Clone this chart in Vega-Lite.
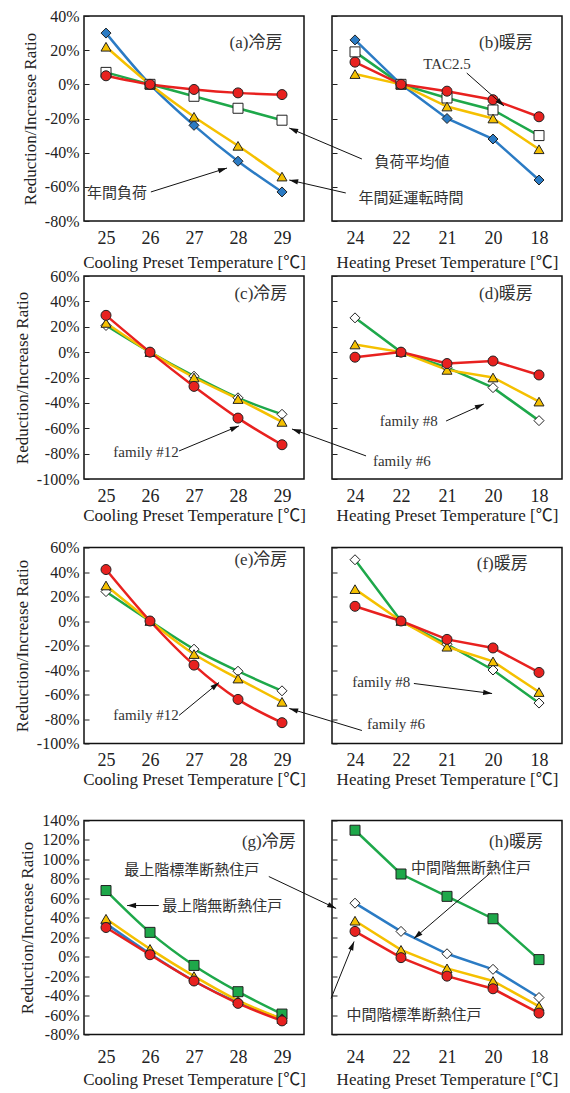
{
"$schema": "https://vega.github.io/schema/vega-lite/v6.json",
"background": "white",
"padding": {"left": 12, "top": 7, "right": 0, "bottom": 0},
"config": {
  "font": "'Liberation Serif', 'Times New Roman', 'DejaVu Serif', serif",
  "view": {"stroke": "#111", "strokeWidth": 1.5},
  "axis": {"domain": false, "grid": false, "labelFont": "'Liberation Serif', 'Times New Roman', serif", "labelColor": "#222", "titleFont": "'Liberation Serif', 'Times New Roman', 'Noto Sans CJK JP', serif", "titleColor": "#222", "titleFontWeight": "normal", "tickColor": "#222"},
  "axisX": {"ticks": false, "labelFontSize": 18, "labelPadding": 8, "titleFontSize": 17, "titlePadding": 7},
  "axisY": {"ticks": true, "tickSize": -5, "labelFontSize": 16, "labelPadding": 10, "titleFontSize": 17, "titlePadding": 5}
},
"datasets": {
  "pts": [
    {"p":"a","s":"gSw","i":0,"v":7},{"p":"a","s":"gSw","i":1,"v":0},{"p":"a","s":"gSw","i":2,"v":-7},{"p":"a","s":"gSw","i":3,"v":-14},{"p":"a","s":"gSw","i":4,"v":-21},
    {"p":"a","s":"bD","i":0,"v":30},{"p":"a","s":"bD","i":1,"v":0},{"p":"a","s":"bD","i":2,"v":-24},{"p":"a","s":"bD","i":3,"v":-45},{"p":"a","s":"bD","i":4,"v":-63},
    {"p":"a","s":"yT","i":0,"v":22},{"p":"a","s":"yT","i":1,"v":0},{"p":"a","s":"yT","i":2,"v":-19},{"p":"a","s":"yT","i":3,"v":-36},{"p":"a","s":"yT","i":4,"v":-54},
    {"p":"a","s":"rC","i":0,"v":5},{"p":"a","s":"rC","i":1,"v":0},{"p":"a","s":"rC","i":2,"v":-3},{"p":"a","s":"rC","i":3,"v":-5},{"p":"a","s":"rC","i":4,"v":-6},
    {"p":"b","s":"gSw","i":0,"v":19},{"p":"b","s":"gSw","i":1,"v":0},{"p":"b","s":"gSw","i":2,"v":-8},{"p":"b","s":"gSw","i":3,"v":-15},{"p":"b","s":"gSw","i":4,"v":-30},
    {"p":"b","s":"bD","i":0,"v":26},{"p":"b","s":"bD","i":1,"v":0},{"p":"b","s":"bD","i":2,"v":-20},{"p":"b","s":"bD","i":3,"v":-32},{"p":"b","s":"bD","i":4,"v":-56},
    {"p":"b","s":"yT","i":0,"v":6},{"p":"b","s":"yT","i":1,"v":0},{"p":"b","s":"yT","i":2,"v":-13},{"p":"b","s":"yT","i":3,"v":-20},{"p":"b","s":"yT","i":4,"v":-38},
    {"p":"b","s":"rC","i":0,"v":13},{"p":"b","s":"rC","i":1,"v":0},{"p":"b","s":"rC","i":2,"v":-4},{"p":"b","s":"rC","i":3,"v":-9},{"p":"b","s":"rC","i":4,"v":-19},
    {"p":"c","s":"gDw","i":0,"v":21},{"p":"c","s":"gDw","i":1,"v":0},{"p":"c","s":"gDw","i":2,"v":-19},{"p":"c","s":"gDw","i":3,"v":-36},{"p":"c","s":"gDw","i":4,"v":-49},
    {"p":"c","s":"yT","i":0,"v":23},{"p":"c","s":"yT","i":1,"v":0},{"p":"c","s":"yT","i":2,"v":-20},{"p":"c","s":"yT","i":3,"v":-37},{"p":"c","s":"yT","i":4,"v":-55},
    {"p":"c","s":"rC","i":0,"v":29},{"p":"c","s":"rC","i":1,"v":0},{"p":"c","s":"rC","i":2,"v":-27},{"p":"c","s":"rC","i":3,"v":-52},{"p":"c","s":"rC","i":4,"v":-73},
    {"p":"d","s":"gDw","i":0,"v":27},{"p":"d","s":"gDw","i":1,"v":0},{"p":"d","s":"gDw","i":2,"v":-12},{"p":"d","s":"gDw","i":3,"v":-28},{"p":"d","s":"gDw","i":4,"v":-54},
    {"p":"d","s":"yT","i":0,"v":6},{"p":"d","s":"yT","i":1,"v":0},{"p":"d","s":"yT","i":2,"v":-14},{"p":"d","s":"yT","i":3,"v":-20},{"p":"d","s":"yT","i":4,"v":-39},
    {"p":"d","s":"rC","i":0,"v":-4},{"p":"d","s":"rC","i":1,"v":0},{"p":"d","s":"rC","i":2,"v":-9},{"p":"d","s":"rC","i":3,"v":-7},{"p":"d","s":"rC","i":4,"v":-18},
    {"p":"e","s":"gDw","i":0,"v":24},{"p":"e","s":"gDw","i":1,"v":0},{"p":"e","s":"gDw","i":2,"v":-23},{"p":"e","s":"gDw","i":3,"v":-41},{"p":"e","s":"gDw","i":4,"v":-57},
    {"p":"e","s":"yT","i":0,"v":29},{"p":"e","s":"yT","i":1,"v":0},{"p":"e","s":"yT","i":2,"v":-27},{"p":"e","s":"yT","i":3,"v":-47},{"p":"e","s":"yT","i":4,"v":-66},
    {"p":"e","s":"rC","i":0,"v":42},{"p":"e","s":"rC","i":1,"v":0},{"p":"e","s":"rC","i":2,"v":-36},{"p":"e","s":"rC","i":3,"v":-64},{"p":"e","s":"rC","i":4,"v":-83},
    {"p":"f","s":"gDw","i":0,"v":50},{"p":"f","s":"gDw","i":1,"v":0},{"p":"f","s":"gDw","i":2,"v":-19},{"p":"f","s":"gDw","i":3,"v":-40},{"p":"f","s":"gDw","i":4,"v":-67},
    {"p":"f","s":"yT","i":0,"v":26},{"p":"f","s":"yT","i":1,"v":0},{"p":"f","s":"yT","i":2,"v":-21},{"p":"f","s":"yT","i":3,"v":-33},{"p":"f","s":"yT","i":4,"v":-58},
    {"p":"f","s":"rC","i":0,"v":12},{"p":"f","s":"rC","i":1,"v":0},{"p":"f","s":"rC","i":2,"v":-15},{"p":"f","s":"rC","i":3,"v":-22},{"p":"f","s":"rC","i":4,"v":-42},
    {"p":"g","s":"gS","i":0,"v":68},{"p":"g","s":"gS","i":1,"v":25},{"p":"g","s":"gS","i":2,"v":-9},{"p":"g","s":"gS","i":3,"v":-36},{"p":"g","s":"gS","i":4,"v":-59},
    {"p":"g","s":"bD","i":0,"v":34},{"p":"g","s":"bD","i":1,"v":3},{"p":"g","s":"bD","i":2,"v":-25},{"p":"g","s":"bD","i":3,"v":-47},{"p":"g","s":"bD","i":4,"v":-64},
    {"p":"g","s":"yT","i":0,"v":39},{"p":"g","s":"yT","i":1,"v":8},{"p":"g","s":"yT","i":2,"v":-20},{"p":"g","s":"yT","i":3,"v":-45},{"p":"g","s":"yT","i":4,"v":-64},
    {"p":"g","s":"rC","i":0,"v":30},{"p":"g","s":"rC","i":1,"v":2},{"p":"g","s":"rC","i":2,"v":-25},{"p":"g","s":"rC","i":3,"v":-48},{"p":"g","s":"rC","i":4,"v":-66},
    {"p":"h","s":"gS","i":0,"v":130},{"p":"h","s":"gS","i":1,"v":85},{"p":"h","s":"gS","i":2,"v":62},{"p":"h","s":"gS","i":3,"v":39},{"p":"h","s":"gS","i":4,"v":-3},
    {"p":"h","s":"bDw","i":0,"v":55},{"p":"h","s":"bDw","i":1,"v":26},{"p":"h","s":"bDw","i":2,"v":3},{"p":"h","s":"bDw","i":3,"v":-13},{"p":"h","s":"bDw","i":4,"v":-42},
    {"p":"h","s":"yT","i":0,"v":37},{"p":"h","s":"yT","i":1,"v":7},{"p":"h","s":"yT","i":2,"v":-12},{"p":"h","s":"yT","i":3,"v":-25},{"p":"h","s":"yT","i":4,"v":-51},
    {"p":"h","s":"rC","i":0,"v":26},{"p":"h","s":"rC","i":1,"v":-1},{"p":"h","s":"rC","i":2,"v":-20},{"p":"h","s":"rC","i":3,"v":-33},{"p":"h","s":"rC","i":4,"v":-58}
  ],
  "txt": [
    {"p":"a","k":"lab","i":3.41,"v":24.2,"t":"(a)冷房"},
    {"p":"a","k":"ann","i":0.25,"v":-63.6,"t":"年間負荷"},
    {"p":"b","k":"lab","i":3.28,"v":24.2,"t":"(b)暖房"},
    {"p":"b","k":"ann","i":2.0,"v":11.9,"t":"TAC2.5"},
    {"p":"b","k":"ann","i":1.24,"v":-45.5,"t":"負荷平均値"},
    {"p":"b","k":"ann","i":1.22,"v":-66.6,"t":"年間延運転時間"},
    {"p":"c","k":"lab","i":3.52,"v":45.8,"t":"(c)冷房"},
    {"p":"c","k":"ann","i":0.91,"v":-78.7,"t":"family #12"},
    {"p":"d","k":"lab","i":3.28,"v":45.8,"t":"(d)暖房"},
    {"p":"d","k":"ann","i":1.17,"v":-54.3,"t":"family #8"},
    {"p":"d","k":"ann","i":1.02,"v":-85.8,"t":"family #6"},
    {"p":"e","k":"lab","i":3.52,"v":50,"t":"(e)冷房"},
    {"p":"e","k":"ann","i":0.91,"v":-77.1,"t":"family #12"},
    {"p":"f","k":"lab","i":3.2,"v":46.9,"t":"(f)暖房"},
    {"p":"f","k":"ann","i":0.57,"v":-50.2,"t":"family #8"},
    {"p":"f","k":"ann","i":0.89,"v":-83.7,"t":"family #6"},
    {"p":"g","k":"lab","i":3.7,"v":118.4,"t":"(g)冷房"},
    {"p":"g","k":"ann","i":1.95,"v":88.6,"t":"最上階標準断熱住戸"},
    {"p":"g","k":"ann","i":2.64,"v":52.6,"t":"最上階無断熱住戸"},
    {"p":"h","k":"lab","i":3.5,"v":118.4,"t":"(h)暖房"},
    {"p":"h","k":"ann","i":2.52,"v":90.7,"t":"中間階無断熱住戸"},
    {"p":"h","k":"ann","i":1.28,"v":-60.4,"t":"中間階標準断熱住戸"}
  ],
  "arr": [
    {"p":"a","i":2.75,"v":-49.0,"i2":1.02,"v2":-63.0,"a":72.5},
    {"p":"b","i":3.24,"v":-12.7,"i2":2.43,"v2":6.6,"a":131.7},
    {"p":"b","i":-1.43,"v":-25.6,"i2":0.15,"v2":-43.7,"a":-67},
    {"p":"b","i":-1.43,"v":-56.0,"i2":-0.2,"v2":-63.6,"a":-77.2},
    {"p":"c","i":3.02,"v":-58.2,"i2":1.66,"v2":-77.9,"a":67.4},
    {"p":"d","i":2.8,"v":-40.9,"i2":1.98,"v2":-54.3,"a":65.9},
    {"p":"d","i":-1.37,"v":-60.6,"i2":0.24,"v2":-81.8,"a":-69.9},
    {"p":"e","i":2.57,"v":-50.2,"i2":1.66,"v2":-77.1,"a":50.5},
    {"p":"f","i":2.98,"v":-59.2,"i2":1.28,"v2":-51.0,"a":97.3},
    {"p":"f","i":-1.43,"v":-71.4,"i2":0.15,"v2":-89.4,"a":-73.2},
    {"p":"g","i":5.23,"v":49.6,"i2":3.7,"v2":82.4,"a":115.5},
    {"p":"g","i":0.48,"v":52.6,"i2":1.2,"v2":52.6,"a":-90},
    {"p":"h","i":1.28,"v":18.7,"i2":2.98,"v2":87.6,"a":-130.7},
    {"p":"h","i":-0.02,"v":15.6,"i2":-0.52,"v2":-42.9,"a":22}
  ]
},
"spacing": 22.5,
"resolve": {"scale": {"x": "independent", "y": "independent"}},
"vconcat": [
 {"spacing": 14.5, "resolve": {"scale": {"x": "independent", "y": "independent"}}, "vconcat": [
  {"spacing": -4, "resolve": {"scale": {"x": "independent", "y": "independent"}}, "vconcat": [
   {"hconcat": [
    {"width": 220, "height": 205,
     "encoding": {
      "x": {"field": "i", "type": "quantitative", "scale": {"domain": [-0.5, 4.5], "nice": false, "zero": false}, "axis": {"values": [0,1,2,3,4], "labelExpr": "'' + (25 + datum.value)", "title": "Cooling Preset Temperature [℃]"}},
      "y": {"field": "v", "type": "quantitative", "scale": {"domain": [-80, 40], "nice": false, "zero": false}, "axis": {"values": [-80,-60,-40,-20,0,20,40], "labelExpr": "datum.value + '%'", "title": "Reduction/Increase Ratio"}}
     },
     "layer": [
      {"data": {"values": [{}]}, "mark": {"type": "rule", "color": "#222", "strokeWidth": 1}, "encoding": {"x": {"datum": -0.5}, "x2": {"datum": 4.5}, "y": {"datum": 0}}},
      {"data": {"name": "pts"}, "transform": [{"filter": "datum.p == 'a'"}], "mark": {"type": "line", "strokeWidth": 2.5, "interpolate": "monotone"}, "encoding": {"color": {"field": "s", "type": "nominal", "scale": {"domain": ["gSw","gS","gDw","bD","bDw","yT","rC"], "range": ["#1ea84a","#1ea84a","#1ea84a","#2b7bc4","#2b7bc4","#f5c000","#e8211f"]}, "legend": null}}},
      {"data": {"name": "pts"}, "transform": [{"filter": "datum.p == 'a'"}], "mark": {"type": "point", "filled": true, "size": 100, "stroke": "#222", "strokeWidth": 1, "opacity": 1}, "encoding": {"fill": {"field": "s", "type": "nominal", "scale": {"domain": ["gSw","gS","gDw","bD","bDw","yT","rC"], "range": ["white","#1ea84a","white","#2b7bc4","white","#f5c000","#e8211f"]}, "legend": null}, "shape": {"field": "s", "type": "nominal", "scale": {"domain": ["gSw","gS","gDw","bD","bDw","yT","rC"], "range": ["square","square","diamond","diamond","diamond","triangle-up","circle"]}, "legend": null}}},
      {"data": {"name": "arr"}, "transform": [{"filter": "datum.p == 'a'"}], "mark": {"type": "rule", "color": "#111", "strokeWidth": 1}, "encoding": {"x2": {"field": "i2"}, "y2": {"field": "v2"}}},
      {"data": {"name": "arr"}, "transform": [{"filter": "datum.p == 'a'"}], "mark": {"type": "point", "shape": "M0,0L0.6,2L-0.6,2Z", "filled": true, "color": "#111", "size": 80, "opacity": 1}, "encoding": {"angle": {"field": "a", "type": "quantitative", "scale": null}}},
      {"data": {"name": "txt"}, "transform": [{"filter": "datum.p == 'a' && datum.k == 'lab'"}], "mark": {"type": "text", "font": "'Liberation Serif', 'Noto Sans CJK JP', serif", "fontSize": 17, "color": "#333"}, "encoding": {"text": {"field": "t"}}},
      {"data": {"name": "txt"}, "transform": [{"filter": "datum.p == 'a' && datum.k == 'ann'"}], "mark": {"type": "text", "font": "'Liberation Serif', 'Noto Sans CJK JP', serif", "fontSize": 15, "color": "#333"}, "encoding": {"text": {"field": "t"}}}
     ]},
    {"width": 230, "height": 205,
     "encoding": {
      "x": {"field": "i", "type": "quantitative", "scale": {"domain": [-0.5, 4.5], "nice": false, "zero": false}, "axis": {"values": [0,1,2,3,4], "labelExpr": "['24','22','21','20','18'][datum.value]", "title": "Heating Preset Temperature [℃]"}},
      "y": {"field": "v", "type": "quantitative", "scale": {"domain": [-80, 40], "nice": false, "zero": false}, "axis": {"values": [-80,-60,-40,-20,0,20,40], "labels": false, "title": null}}
     },
     "layer": [
      {"data": {"values": [{}]}, "mark": {"type": "rule", "color": "#222", "strokeWidth": 1}, "encoding": {"x": {"datum": -0.5}, "x2": {"datum": 4.5}, "y": {"datum": 0}}},
      {"data": {"name": "pts"}, "transform": [{"filter": "datum.p == 'b'"}], "mark": {"type": "line", "strokeWidth": 2.5}, "encoding": {"color": {"field": "s", "type": "nominal", "scale": {"domain": ["gSw","gS","gDw","bD","bDw","yT","rC"], "range": ["#1ea84a","#1ea84a","#1ea84a","#2b7bc4","#2b7bc4","#f5c000","#e8211f"]}, "legend": null}}},
      {"data": {"name": "pts"}, "transform": [{"filter": "datum.p == 'b'"}], "mark": {"type": "point", "filled": true, "size": 100, "stroke": "#222", "strokeWidth": 1, "opacity": 1}, "encoding": {"fill": {"field": "s", "type": "nominal", "scale": {"domain": ["gSw","gS","gDw","bD","bDw","yT","rC"], "range": ["white","#1ea84a","white","#2b7bc4","white","#f5c000","#e8211f"]}, "legend": null}, "shape": {"field": "s", "type": "nominal", "scale": {"domain": ["gSw","gS","gDw","bD","bDw","yT","rC"], "range": ["square","square","diamond","diamond","diamond","triangle-up","circle"]}, "legend": null}}},
      {"data": {"name": "arr"}, "transform": [{"filter": "datum.p == 'b'"}], "mark": {"type": "rule", "color": "#111", "strokeWidth": 1}, "encoding": {"x2": {"field": "i2"}, "y2": {"field": "v2"}}},
      {"data": {"name": "arr"}, "transform": [{"filter": "datum.p == 'b'"}], "mark": {"type": "point", "shape": "M0,0L0.6,2L-0.6,2Z", "filled": true, "color": "#111", "size": 80, "opacity": 1}, "encoding": {"angle": {"field": "a", "type": "quantitative", "scale": null}}},
      {"data": {"name": "txt"}, "transform": [{"filter": "datum.p == 'b' && datum.k == 'lab'"}], "mark": {"type": "text", "font": "'Liberation Serif', 'Noto Sans CJK JP', serif", "fontSize": 17, "color": "#333"}, "encoding": {"text": {"field": "t"}}},
      {"data": {"name": "txt"}, "transform": [{"filter": "datum.p == 'b' && datum.k == 'ann'"}], "mark": {"type": "text", "font": "'Liberation Serif', 'Noto Sans CJK JP', serif", "fontSize": 15, "color": "#333"}, "encoding": {"text": {"field": "t"}}}
     ]}
   ], "spacing": 28, "bounds": "flush", "resolve": {"scale": {"x": "independent", "y": "independent"}}},
   {"hconcat": [
    {"width": 220, "height": 203,
     "encoding": {
      "x": {"field": "i", "type": "quantitative", "scale": {"domain": [-0.5, 4.5], "nice": false, "zero": false}, "axis": {"values": [0,1,2,3,4], "labelExpr": "'' + (25 + datum.value)", "title": "Cooling Preset Temperature [℃]", "titlePadding": 2}},
      "y": {"field": "v", "type": "quantitative", "scale": {"domain": [-100, 60], "nice": false, "zero": false}, "axis": {"values": [-100,-80,-60,-40,-20,0,20,40,60], "labelExpr": "datum.value + '%'", "title": "Reduction/Increase Ratio"}}
     },
     "layer": [
      {"data": {"values": [{}]}, "mark": {"type": "rule", "color": "#222", "strokeWidth": 1}, "encoding": {"x": {"datum": -0.5}, "x2": {"datum": 4.5}, "y": {"datum": 0}}},
      {"data": {"name": "pts"}, "transform": [{"filter": "datum.p == 'c'"}], "mark": {"type": "line", "strokeWidth": 2.5, "interpolate": "monotone"}, "encoding": {"color": {"field": "s", "type": "nominal", "scale": {"domain": ["gSw","gS","gDw","bD","bDw","yT","rC"], "range": ["#1ea84a","#1ea84a","#1ea84a","#2b7bc4","#2b7bc4","#f5c000","#e8211f"]}, "legend": null}}},
      {"data": {"name": "pts"}, "transform": [{"filter": "datum.p == 'c'"}], "mark": {"type": "point", "filled": true, "size": 100, "stroke": "#222", "strokeWidth": 1, "opacity": 1}, "encoding": {"fill": {"field": "s", "type": "nominal", "scale": {"domain": ["gSw","gS","gDw","bD","bDw","yT","rC"], "range": ["white","#1ea84a","white","#2b7bc4","white","#f5c000","#e8211f"]}, "legend": null}, "shape": {"field": "s", "type": "nominal", "scale": {"domain": ["gSw","gS","gDw","bD","bDw","yT","rC"], "range": ["square","square","diamond","diamond","diamond","triangle-up","circle"]}, "legend": null}}},
      {"data": {"name": "arr"}, "transform": [{"filter": "datum.p == 'c'"}], "mark": {"type": "rule", "color": "#111", "strokeWidth": 1}, "encoding": {"x2": {"field": "i2"}, "y2": {"field": "v2"}}},
      {"data": {"name": "arr"}, "transform": [{"filter": "datum.p == 'c'"}], "mark": {"type": "point", "shape": "M0,0L0.6,2L-0.6,2Z", "filled": true, "color": "#111", "size": 80, "opacity": 1}, "encoding": {"angle": {"field": "a", "type": "quantitative", "scale": null}}},
      {"data": {"name": "txt"}, "transform": [{"filter": "datum.p == 'c' && datum.k == 'lab'"}], "mark": {"type": "text", "font": "'Liberation Serif', 'Noto Sans CJK JP', serif", "fontSize": 17, "color": "#333"}, "encoding": {"text": {"field": "t"}}},
      {"data": {"name": "txt"}, "transform": [{"filter": "datum.p == 'c' && datum.k == 'ann'"}], "mark": {"type": "text", "font": "'Liberation Serif', 'Noto Sans CJK JP', serif", "fontSize": 15, "color": "#333"}, "encoding": {"text": {"field": "t"}}}
     ]},
    {"width": 230, "height": 203,
     "encoding": {
      "x": {"field": "i", "type": "quantitative", "scale": {"domain": [-0.5, 4.5], "nice": false, "zero": false}, "axis": {"values": [0,1,2,3,4], "labelExpr": "['24','22','21','20','18'][datum.value]", "title": "Heating Preset Temperature [℃]", "titlePadding": 2}},
      "y": {"field": "v", "type": "quantitative", "scale": {"domain": [-100, 60], "nice": false, "zero": false}, "axis": {"values": [-100,-80,-60,-40,-20,0,20,40,60], "labels": false, "title": null}}
     },
     "layer": [
      {"data": {"values": [{}]}, "mark": {"type": "rule", "color": "#222", "strokeWidth": 1}, "encoding": {"x": {"datum": -0.5}, "x2": {"datum": 4.5}, "y": {"datum": 0}}},
      {"data": {"name": "pts"}, "transform": [{"filter": "datum.p == 'd'"}], "mark": {"type": "line", "strokeWidth": 2.5}, "encoding": {"color": {"field": "s", "type": "nominal", "scale": {"domain": ["gSw","gS","gDw","bD","bDw","yT","rC"], "range": ["#1ea84a","#1ea84a","#1ea84a","#2b7bc4","#2b7bc4","#f5c000","#e8211f"]}, "legend": null}}},
      {"data": {"name": "pts"}, "transform": [{"filter": "datum.p == 'd'"}], "mark": {"type": "point", "filled": true, "size": 100, "stroke": "#222", "strokeWidth": 1, "opacity": 1}, "encoding": {"fill": {"field": "s", "type": "nominal", "scale": {"domain": ["gSw","gS","gDw","bD","bDw","yT","rC"], "range": ["white","#1ea84a","white","#2b7bc4","white","#f5c000","#e8211f"]}, "legend": null}, "shape": {"field": "s", "type": "nominal", "scale": {"domain": ["gSw","gS","gDw","bD","bDw","yT","rC"], "range": ["square","square","diamond","diamond","diamond","triangle-up","circle"]}, "legend": null}}},
      {"data": {"name": "arr"}, "transform": [{"filter": "datum.p == 'd'"}], "mark": {"type": "rule", "color": "#111", "strokeWidth": 1}, "encoding": {"x2": {"field": "i2"}, "y2": {"field": "v2"}}},
      {"data": {"name": "arr"}, "transform": [{"filter": "datum.p == 'd'"}], "mark": {"type": "point", "shape": "M0,0L0.6,2L-0.6,2Z", "filled": true, "color": "#111", "size": 80, "opacity": 1}, "encoding": {"angle": {"field": "a", "type": "quantitative", "scale": null}}},
      {"data": {"name": "txt"}, "transform": [{"filter": "datum.p == 'd' && datum.k == 'lab'"}], "mark": {"type": "text", "font": "'Liberation Serif', 'Noto Sans CJK JP', serif", "fontSize": 17, "color": "#333"}, "encoding": {"text": {"field": "t"}}},
      {"data": {"name": "txt"}, "transform": [{"filter": "datum.p == 'd' && datum.k == 'ann'"}], "mark": {"type": "text", "font": "'Liberation Serif', 'Noto Sans CJK JP', serif", "fontSize": 15, "color": "#333"}, "encoding": {"text": {"field": "t"}}}
     ]}
   ], "spacing": 28, "bounds": "flush", "resolve": {"scale": {"x": "independent", "y": "independent"}}}
  ]},
  {"hconcat": [
    {"width": 220, "height": 196,
     "encoding": {
      "x": {"field": "i", "type": "quantitative", "scale": {"domain": [-0.5, 4.5], "nice": false, "zero": false}, "axis": {"values": [0,1,2,3,4], "labelExpr": "'' + (25 + datum.value)", "title": "Cooling Preset Temperature [℃]", "titlePadding": 2}},
      "y": {"field": "v", "type": "quantitative", "scale": {"domain": [-100, 60], "nice": false, "zero": false}, "axis": {"values": [-100,-80,-60,-40,-20,0,20,40,60], "labelExpr": "datum.value + '%'", "title": "Reduction/Increase Ratio"}}
     },
     "layer": [
      {"data": {"values": [{}]}, "mark": {"type": "rule", "color": "#222", "strokeWidth": 1}, "encoding": {"x": {"datum": -0.5}, "x2": {"datum": 4.5}, "y": {"datum": 0}}},
      {"data": {"name": "pts"}, "transform": [{"filter": "datum.p == 'e'"}], "mark": {"type": "line", "strokeWidth": 2.5, "interpolate": "monotone"}, "encoding": {"color": {"field": "s", "type": "nominal", "scale": {"domain": ["gSw","gS","gDw","bD","bDw","yT","rC"], "range": ["#1ea84a","#1ea84a","#1ea84a","#2b7bc4","#2b7bc4","#f5c000","#e8211f"]}, "legend": null}}},
      {"data": {"name": "pts"}, "transform": [{"filter": "datum.p == 'e'"}], "mark": {"type": "point", "filled": true, "size": 100, "stroke": "#222", "strokeWidth": 1, "opacity": 1}, "encoding": {"fill": {"field": "s", "type": "nominal", "scale": {"domain": ["gSw","gS","gDw","bD","bDw","yT","rC"], "range": ["white","#1ea84a","white","#2b7bc4","white","#f5c000","#e8211f"]}, "legend": null}, "shape": {"field": "s", "type": "nominal", "scale": {"domain": ["gSw","gS","gDw","bD","bDw","yT","rC"], "range": ["square","square","diamond","diamond","diamond","triangle-up","circle"]}, "legend": null}}},
      {"data": {"name": "arr"}, "transform": [{"filter": "datum.p == 'e'"}], "mark": {"type": "rule", "color": "#111", "strokeWidth": 1}, "encoding": {"x2": {"field": "i2"}, "y2": {"field": "v2"}}},
      {"data": {"name": "arr"}, "transform": [{"filter": "datum.p == 'e'"}], "mark": {"type": "point", "shape": "M0,0L0.6,2L-0.6,2Z", "filled": true, "color": "#111", "size": 80, "opacity": 1}, "encoding": {"angle": {"field": "a", "type": "quantitative", "scale": null}}},
      {"data": {"name": "txt"}, "transform": [{"filter": "datum.p == 'e' && datum.k == 'lab'"}], "mark": {"type": "text", "font": "'Liberation Serif', 'Noto Sans CJK JP', serif", "fontSize": 17, "color": "#333"}, "encoding": {"text": {"field": "t"}}},
      {"data": {"name": "txt"}, "transform": [{"filter": "datum.p == 'e' && datum.k == 'ann'"}], "mark": {"type": "text", "font": "'Liberation Serif', 'Noto Sans CJK JP', serif", "fontSize": 15, "color": "#333"}, "encoding": {"text": {"field": "t"}}}
     ]},
    {"width": 230, "height": 196,
     "encoding": {
      "x": {"field": "i", "type": "quantitative", "scale": {"domain": [-0.5, 4.5], "nice": false, "zero": false}, "axis": {"values": [0,1,2,3,4], "labelExpr": "['24','22','21','20','18'][datum.value]", "title": "Heating Preset Temperature [℃]", "titlePadding": 2}},
      "y": {"field": "v", "type": "quantitative", "scale": {"domain": [-100, 60], "nice": false, "zero": false}, "axis": {"values": [-100,-80,-60,-40,-20,0,20,40,60], "labels": false, "title": null}}
     },
     "layer": [
      {"data": {"values": [{}]}, "mark": {"type": "rule", "color": "#222", "strokeWidth": 1}, "encoding": {"x": {"datum": -0.5}, "x2": {"datum": 4.5}, "y": {"datum": 0}}},
      {"data": {"name": "pts"}, "transform": [{"filter": "datum.p == 'f'"}], "mark": {"type": "line", "strokeWidth": 2.5}, "encoding": {"color": {"field": "s", "type": "nominal", "scale": {"domain": ["gSw","gS","gDw","bD","bDw","yT","rC"], "range": ["#1ea84a","#1ea84a","#1ea84a","#2b7bc4","#2b7bc4","#f5c000","#e8211f"]}, "legend": null}}},
      {"data": {"name": "pts"}, "transform": [{"filter": "datum.p == 'f'"}], "mark": {"type": "point", "filled": true, "size": 100, "stroke": "#222", "strokeWidth": 1, "opacity": 1}, "encoding": {"fill": {"field": "s", "type": "nominal", "scale": {"domain": ["gSw","gS","gDw","bD","bDw","yT","rC"], "range": ["white","#1ea84a","white","#2b7bc4","white","#f5c000","#e8211f"]}, "legend": null}, "shape": {"field": "s", "type": "nominal", "scale": {"domain": ["gSw","gS","gDw","bD","bDw","yT","rC"], "range": ["square","square","diamond","diamond","diamond","triangle-up","circle"]}, "legend": null}}},
      {"data": {"name": "arr"}, "transform": [{"filter": "datum.p == 'f'"}], "mark": {"type": "rule", "color": "#111", "strokeWidth": 1}, "encoding": {"x2": {"field": "i2"}, "y2": {"field": "v2"}}},
      {"data": {"name": "arr"}, "transform": [{"filter": "datum.p == 'f'"}], "mark": {"type": "point", "shape": "M0,0L0.6,2L-0.6,2Z", "filled": true, "color": "#111", "size": 80, "opacity": 1}, "encoding": {"angle": {"field": "a", "type": "quantitative", "scale": null}}},
      {"data": {"name": "txt"}, "transform": [{"filter": "datum.p == 'f' && datum.k == 'lab'"}], "mark": {"type": "text", "font": "'Liberation Serif', 'Noto Sans CJK JP', serif", "fontSize": 17, "color": "#333"}, "encoding": {"text": {"field": "t"}}},
      {"data": {"name": "txt"}, "transform": [{"filter": "datum.p == 'f' && datum.k == 'ann'"}], "mark": {"type": "text", "font": "'Liberation Serif', 'Noto Sans CJK JP', serif", "fontSize": 15, "color": "#333"}, "encoding": {"text": {"field": "t"}}}
     ]}
  ], "spacing": 28, "bounds": "flush", "resolve": {"scale": {"x": "independent", "y": "independent"}}}
 ]},
 {"hconcat": [
    {"width": 220, "height": 214,
     "encoding": {
      "x": {"field": "i", "type": "quantitative", "scale": {"domain": [-0.5, 4.5], "nice": false, "zero": false}, "axis": {"values": [0,1,2,3,4], "labelExpr": "'' + (25 + datum.value)", "title": "Cooling Preset Temperature [℃]", "labelPadding": 14, "titlePadding": 5}},
      "y": {"field": "v", "type": "quantitative", "scale": {"domain": [-80, 140], "nice": false, "zero": false}, "axis": {"values": [-80,-60,-40,-20,0,20,40,60,80,100,120,140], "labelExpr": "datum.value + '%'", "title": "Reduction/Increase Ratio"}}
     },
     "layer": [
      {"data": {"values": [{}]}, "mark": {"type": "rule", "color": "#222", "strokeWidth": 1}, "encoding": {"x": {"datum": -0.5}, "x2": {"datum": 4.5}, "y": {"datum": 0}}},
      {"data": {"name": "pts"}, "transform": [{"filter": "datum.p == 'g'"}], "mark": {"type": "line", "strokeWidth": 2.5, "interpolate": "monotone"}, "encoding": {"color": {"field": "s", "type": "nominal", "scale": {"domain": ["gSw","gS","gDw","bD","bDw","yT","rC"], "range": ["#1ea84a","#1ea84a","#1ea84a","#2b7bc4","#2b7bc4","#f5c000","#e8211f"]}, "legend": null}}},
      {"data": {"name": "pts"}, "transform": [{"filter": "datum.p == 'g'"}], "mark": {"type": "point", "filled": true, "size": 100, "stroke": "#222", "strokeWidth": 1, "opacity": 1}, "encoding": {"fill": {"field": "s", "type": "nominal", "scale": {"domain": ["gSw","gS","gDw","bD","bDw","yT","rC"], "range": ["white","#1ea84a","white","#2b7bc4","white","#f5c000","#e8211f"]}, "legend": null}, "shape": {"field": "s", "type": "nominal", "scale": {"domain": ["gSw","gS","gDw","bD","bDw","yT","rC"], "range": ["square","square","diamond","diamond","diamond","triangle-up","circle"]}, "legend": null}}},
      {"data": {"name": "arr"}, "transform": [{"filter": "datum.p == 'g'"}], "mark": {"type": "rule", "color": "#111", "strokeWidth": 1}, "encoding": {"x2": {"field": "i2"}, "y2": {"field": "v2"}}},
      {"data": {"name": "arr"}, "transform": [{"filter": "datum.p == 'g'"}], "mark": {"type": "point", "shape": "M0,0L0.6,2L-0.6,2Z", "filled": true, "color": "#111", "size": 80, "opacity": 1}, "encoding": {"angle": {"field": "a", "type": "quantitative", "scale": null}}},
      {"data": {"name": "txt"}, "transform": [{"filter": "datum.p == 'g' && datum.k == 'lab'"}], "mark": {"type": "text", "font": "'Liberation Serif', 'Noto Sans CJK JP', serif", "fontSize": 17, "color": "#333"}, "encoding": {"text": {"field": "t"}}},
      {"data": {"name": "txt"}, "transform": [{"filter": "datum.p == 'g' && datum.k == 'ann'"}], "mark": {"type": "text", "font": "'Liberation Serif', 'Noto Sans CJK JP', serif", "fontSize": 15, "color": "#333"}, "encoding": {"text": {"field": "t"}}}
     ]},
    {"width": 230, "height": 214,
     "encoding": {
      "x": {"field": "i", "type": "quantitative", "scale": {"domain": [-0.5, 4.5], "nice": false, "zero": false}, "axis": {"values": [0,1,2,3,4], "labelExpr": "['24','22','21','20','18'][datum.value]", "title": "Heating Preset Temperature [℃]", "labelPadding": 14, "titlePadding": 5}},
      "y": {"field": "v", "type": "quantitative", "scale": {"domain": [-80, 140], "nice": false, "zero": false}, "axis": {"values": [-80,-60,-40,-20,0,20,40,60,80,100,120,140], "labels": false, "title": null}}
     },
     "layer": [
      {"data": {"values": [{}]}, "mark": {"type": "rule", "color": "#222", "strokeWidth": 1}, "encoding": {"x": {"datum": -0.5}, "x2": {"datum": 4.5}, "y": {"datum": 0}}},
      {"data": {"name": "pts"}, "transform": [{"filter": "datum.p == 'h'"}], "mark": {"type": "line", "strokeWidth": 2.5}, "encoding": {"color": {"field": "s", "type": "nominal", "scale": {"domain": ["gSw","gS","gDw","bD","bDw","yT","rC"], "range": ["#1ea84a","#1ea84a","#1ea84a","#2b7bc4","#2b7bc4","#f5c000","#e8211f"]}, "legend": null}}},
      {"data": {"name": "pts"}, "transform": [{"filter": "datum.p == 'h'"}], "mark": {"type": "point", "filled": true, "size": 100, "stroke": "#222", "strokeWidth": 1, "opacity": 1}, "encoding": {"fill": {"field": "s", "type": "nominal", "scale": {"domain": ["gSw","gS","gDw","bD","bDw","yT","rC"], "range": ["white","#1ea84a","white","#2b7bc4","white","#f5c000","#e8211f"]}, "legend": null}, "shape": {"field": "s", "type": "nominal", "scale": {"domain": ["gSw","gS","gDw","bD","bDw","yT","rC"], "range": ["square","square","diamond","diamond","diamond","triangle-up","circle"]}, "legend": null}}},
      {"data": {"name": "arr"}, "transform": [{"filter": "datum.p == 'h'"}], "mark": {"type": "rule", "color": "#111", "strokeWidth": 1}, "encoding": {"x2": {"field": "i2"}, "y2": {"field": "v2"}}},
      {"data": {"name": "arr"}, "transform": [{"filter": "datum.p == 'h'"}], "mark": {"type": "point", "shape": "M0,0L0.6,2L-0.6,2Z", "filled": true, "color": "#111", "size": 80, "opacity": 1}, "encoding": {"angle": {"field": "a", "type": "quantitative", "scale": null}}},
      {"data": {"name": "txt"}, "transform": [{"filter": "datum.p == 'h' && datum.k == 'lab'"}], "mark": {"type": "text", "font": "'Liberation Serif', 'Noto Sans CJK JP', serif", "fontSize": 17, "color": "#333"}, "encoding": {"text": {"field": "t"}}},
      {"data": {"name": "txt"}, "transform": [{"filter": "datum.p == 'h' && datum.k == 'ann'"}], "mark": {"type": "text", "font": "'Liberation Serif', 'Noto Sans CJK JP', serif", "fontSize": 15, "color": "#333"}, "encoding": {"text": {"field": "t"}}}
     ]}
 ], "spacing": 28, "bounds": "flush", "resolve": {"scale": {"x": "independent", "y": "independent"}}}
]
}
